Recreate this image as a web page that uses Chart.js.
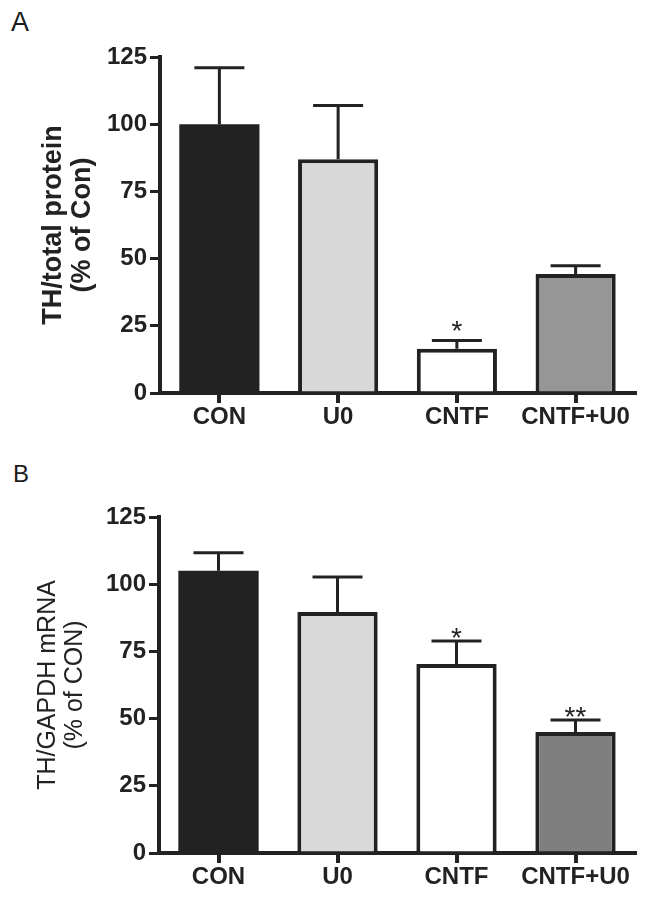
<!DOCTYPE html>
<html>
<head>
<meta charset="utf-8">
<script src="https://cdn.jsdelivr.net/npm/chart.js@4/dist/chart.umd.min.js"></script>
<style>
  html, body { margin: 0; padding: 0; background: #fff; }
  #page { position: relative; width: 649px; height: 900px; overflow: hidden; }
  .panel { position: absolute; left: 0; width: 649px; height: 450px; }
  .letter { position: absolute; font-family: 'Liberation Sans', Arial, sans-serif; line-height: 1; color: #1c1c1c; }
</style>
</head>
<body>
<div id="page">
  <div class="letter" style="left:11px; top:9px; font-size:27px;">A</div>
  <div class="letter" style="left:13px; top:462px; font-size:24px;">B</div>
  <div class="panel" style="top:0"><canvas id="chartA" width="649" height="450"></canvas></div>
  <div class="panel" style="top:450px"><canvas id="chartB" width="649" height="450"></canvas></div>
</div>
<script>
// Groups on the x axis
const categories = ['CON', 'U0', 'CNTF', 'CNTF+U0'];
// Y axis ticks (both panels)
const yTickValues = [0, 25, 50, 75, 100, 125];

// Panel A: TH / total protein (% of Con)
const proteinMeans = [100, 87, 16.5, 44.3];
const proteinErrors = [21, 20, 3, 3];
const proteinMarks = ['', '', '*', ''];

// Panel B: TH / GAPDH mRNA (% of CON)
const mrnaMeans = [105, 89.7, 70.3, 45];
const mrnaErrors = [6.7, 13, 8.6, 4.5];
const mrnaMarks = ['', '', '*', '**'];

const INK = '#222222';
const colorsA = ['#222222', '#d8d8d8', '#ffffff', '#969696'];
const colorsB = ['#222222', '#d9d9d9', '#ffffff', '#7f7f7f'];
// the black bar needs no outline (avoids an anti-aliased seam)
const outlineWidths = [0, 4, 4, 4];

// Draws upward error bars and significance marks on top of the bars
const errorBars = {
  id: 'errorBars',
  afterDatasetsDraw(chart, args, opts) {
    const ctx = chart.ctx;
    const y = chart.scales.y;
    const meta = chart.getDatasetMeta(0);
    ctx.save();
    ctx.strokeStyle = INK;
    ctx.lineWidth = 3;
    ctx.lineCap = 'butt';
    meta.data.forEach((bar, i) => {
      const top = y.getPixelForValue(opts.means[i] + opts.errors[i]);
      ctx.beginPath();
      ctx.moveTo(bar.x, bar.y);
      ctx.lineTo(bar.x, top);
      ctx.moveTo(bar.x - 25, top);
      ctx.lineTo(bar.x + 25, top);
      ctx.stroke();
      if (opts.marks[i]) {
        ctx.fillStyle = INK;
        ctx.font = '28px "Liberation Sans", Arial, sans-serif';
        ctx.textAlign = 'center';
        ctx.textBaseline = 'alphabetic';
        ctx.fillText(opts.marks[i], bar.x, top + opts.markOffset);
      }
    });
    ctx.restore();
  }
};

function makeChart(id, means, errors, marks, colors, cfg) {
  return new Chart(document.getElementById(id), {
    type: 'bar',
    data: {
      labels: categories,
      datasets: [{
        data: means,
        backgroundColor: colors,
        borderColor: INK,
        borderWidth: outlineWidths,
        borderSkipped: 'start',
        barPercentage: 0.675,
        categoryPercentage: 1
      }]
    },
    plugins: [errorBars],
    options: {
      responsive: false,
      animation: false,
      events: [],
      layout: { padding: { top: cfg.top, right: 14, left: 0, bottom: 0 } },
      plugins: {
        legend: { display: false },
        tooltip: { enabled: false },
        errorBars: { means: means, errors: errors, marks: marks, markOffset: cfg.markOffset }
      },
      scales: {
        x: {
          z: 1,
          offset: true,
          afterFit: (s) => { s.height = cfg.xHeight; },
          border: { display: true, color: INK, width: 4 },
          grid: { display: true, offset: false, drawOnChartArea: false, drawTicks: true, tickLength: 10, lineWidth: 4, color: INK },
          ticks: {
            color: INK,
            padding: 0,
            maxRotation: 0,
            font: { family: '"Liberation Sans", Arial, sans-serif', size: 24, weight: 'bold' }
          }
        },
        y: {
          z: 1,
          min: 0,
          max: 125,
          afterFit: (s) => { s.width = cfg.yWidth; },
          afterBuildTicks: (s) => { s.ticks = yTickValues.map(v => ({ value: v })); },
          border: { display: true, color: INK, width: 4 },
          grid: { display: true, drawOnChartArea: false, drawTicks: true, tickLength: 10, lineWidth: 3, color: INK },
          ticks: {
            color: INK,
            padding: 3,
            font: { family: '"Liberation Sans Narrow", "Liberation Sans", Arial, sans-serif', size: 24, weight: 'bold' }
          },
          title: {
            display: true,
            text: cfg.title,
            color: INK,
            padding: { top: cfg.titlePad, bottom: 0 },
            font: { family: '"Liberation Sans", Arial, sans-serif', size: cfg.titleSize, weight: cfg.titleWeight, lineHeight: 1.08 }
          }
        }
      }
    }
  });
}

makeChart('chartA', proteinMeans, proteinErrors, proteinMarks, colorsA, {
  top: 57, xHeight: 57, yWidth: 160, markOffset: -1,
  title: ['TH/total protein', '(% of Con)'], titleSize: 27, titleWeight: 'bold', titlePad: 39
});
makeChart('chartB', mrnaMeans, mrnaErrors, mrnaMarks, colorsB, {
  top: 67, xHeight: 47, yWidth: 159, markOffset: 6,
  title: ['TH/GAPDH mRNA', '(% of CON)'], titleSize: 25, titleWeight: 'normal', titlePad: 35
});
</script>
</body>
</html>
